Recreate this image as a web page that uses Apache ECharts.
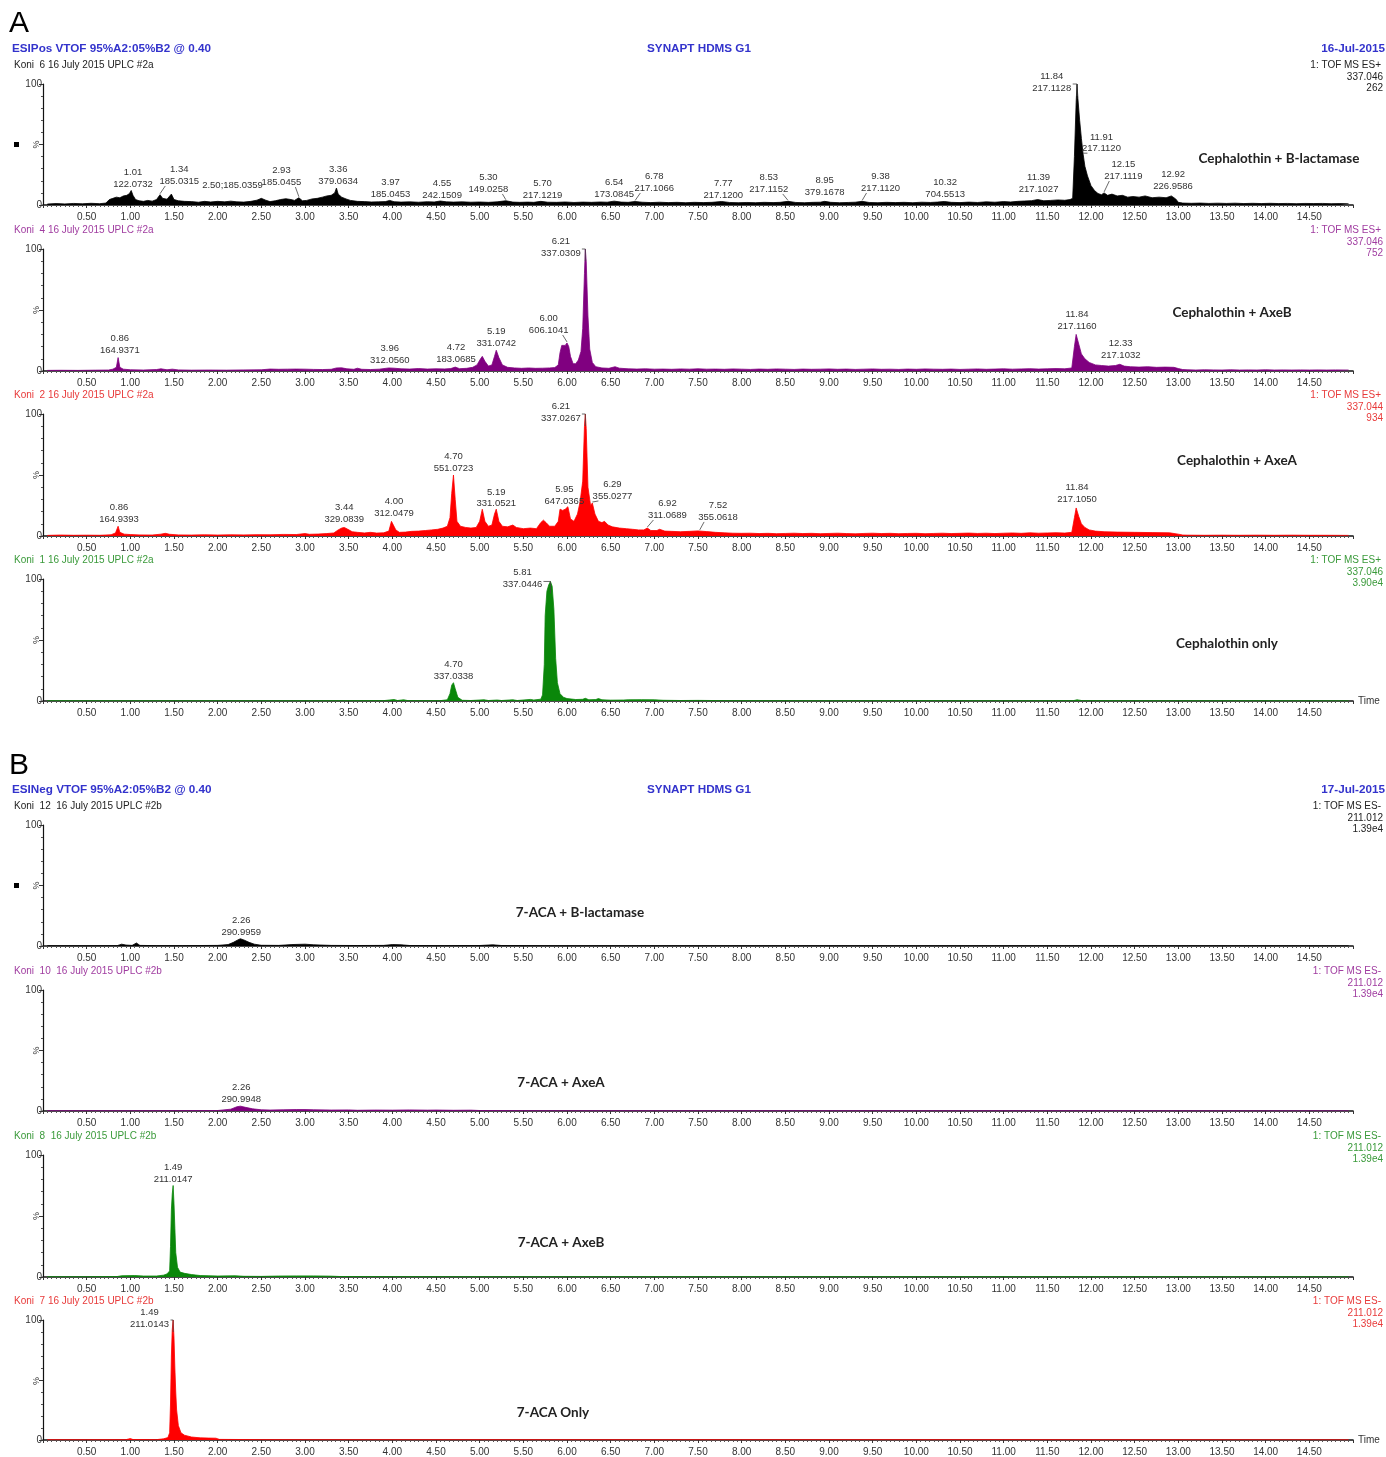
<!DOCTYPE html>
<html><head><meta charset="utf-8">
<script src="https://cdn.jsdelivr.net/npm/echarts@6/dist/echarts.min.js"></script>
<style>html,body{margin:0;padding:0;background:#fff}#c{width:1386px;height:1457px}</style>
</head><body><div id="c"></div>
<script>
// ---------- DATA (retention time [min], relative intensity [%]) ----------
const a1Data = [[0.05,0.8],[0.15,1.2],[0.25,0.9],[0.35,1.3],[0.45,1.0],[0.55,1.4],[0.65,1.1],[0.72,1.6],
[0.76,4.5],[0.80,5.5],[0.84,6.5],[0.88,6.0],[0.92,7.5],[0.96,8.0],[0.99,9.5],[1.01,12],[1.03,8],[1.06,4.5],[1.10,3.5],[1.15,3.0],[1.20,3.8],[1.25,3.2],[1.30,4.5],[1.34,8.5],[1.37,5.5],[1.42,4.8],[1.47,9],[1.50,4.5],[1.55,3.5],[1.62,3.0],[1.70,2.8],[1.78,2.3],[1.85,3.0],[1.92,2.5],[2.00,3.0],[2.08,2.6],[2.15,3.2],[2.22,2.6],[2.30,2.4],[2.38,3.0],[2.45,4.0],[2.50,5.5],[2.55,4.0],[2.60,2.8],[2.66,3.5],[2.72,4.5],[2.78,5.2],[2.84,4.5],[2.88,3.8],[2.93,6.0],[2.97,3.5],[3.02,3.8],[3.08,5.0],[3.14,5.5],[3.20,6.5],[3.25,7.5],[3.30,8.0],[3.34,10],[3.36,14],[3.38,9],[3.42,6.5],[3.47,5.0],[3.52,3.8],[3.60,3.0],[3.68,2.8],[3.76,2.5],[3.84,2.6],[3.92,2.8],[3.97,3.8],[4.02,2.7],[4.10,2.4],[4.20,2.6],[4.30,2.3],[4.40,2.7],[4.48,2.5],[4.55,3.3],[4.62,2.6],[4.70,2.4],[4.80,2.6],[4.90,2.3],[5.00,2.5],[5.10,2.2],[5.20,2.6],[5.30,3.5],[5.38,2.4],[5.46,2.2],[5.55,2.4],[5.62,2.2],[5.70,3.0],[5.78,2.3],[5.88,2.2],[5.98,2.5],[6.08,2.1],[6.18,2.4],[6.28,2.2],[6.38,2.5],[6.46,2.3],[6.54,3.2],[6.62,2.4],[6.70,2.2],[6.78,2.9],[6.86,2.3],[6.96,2.0],[7.06,2.3],[7.16,2.0],[7.26,2.2],[7.36,1.9],[7.46,2.2],[7.56,2.0],[7.66,2.2],[7.77,2.9],[7.86,2.1],[7.96,1.9],[8.06,2.1],[8.16,1.9],[8.26,2.2],[8.36,2.0],[8.44,2.2],[8.53,3.0],[8.62,2.1],[8.72,1.9],[8.82,2.2],[8.90,2.3],[8.95,3.0],[9.02,2.2],[9.12,1.9],[9.22,2.1],[9.30,2.3],[9.38,3.0],[9.46,2.1],[9.56,1.9],[9.66,2.2],[9.76,2.0],[9.86,2.2],[9.96,1.9],[10.06,2.3],[10.16,2.1],[10.24,2.4],[10.32,2.9],[10.40,2.2],[10.50,2.0],[10.60,2.4],[10.70,2.1],[10.80,2.6],[10.90,2.3],[11.00,2.8],[11.08,2.5],[11.16,3.0],[11.24,3.3],[11.32,3.6],[11.39,4.5],[11.46,3.5],[11.54,3.8],[11.62,4.2],[11.70,3.9],[11.76,4.5],[11.79,5.5],[11.81,40],[11.83,85],[11.84,100],[11.85,88],[11.87,70],[11.89,55],[11.91,42],[11.93,32],[11.96,24],[12.00,16],[12.04,12],[12.08,9.5],[12.12,8.5],[12.15,10],[12.19,8],[12.24,9],[12.30,7.5],[12.36,8],[12.42,6.5],[12.48,7],[12.55,6.5],[12.62,7.5],[12.70,6],[12.78,6.5],[12.86,6],[12.92,7.5],[12.97,5],[13.00,2.2],[13.05,1.6],[13.15,1.4],[13.25,1.6],[13.35,1.3],[13.45,1.5],[13.55,1.3],[13.65,1.5],[13.75,1.2],[13.85,1.4],[13.95,1.2],[14.05,1.4],[14.15,1.2],[14.25,1.3],[14.35,1.1],[14.45,1.3],[14.55,1.2],[14.65,1.3],[14.75,1.1],[14.85,1.2],[14.95,1.0]];

const a2Data = [[0.05,0.5],[0.2,0.6],[0.4,0.5],[0.6,0.7],[0.75,0.8],[0.80,1.5],[0.84,3],[0.86,11],[0.88,3],[0.92,1.5],[1.0,1.0],[1.15,0.8],[1.3,1.2],[1.35,1.8],[1.42,1.0],[1.48,1.5],[1.55,0.9],[1.7,0.7],[1.9,0.8],[2.1,0.7],[2.3,0.9],[2.5,1.0],[2.6,1.6],[2.7,1.4],[2.8,1.5],[2.9,1.6],[3.0,1.5],[3.1,1.3],[3.2,1.2],[3.3,1.4],[3.36,2.5],[3.42,2.6],[3.48,1.8],[3.56,1.4],[3.60,2.3],[3.65,1.4],[3.75,1.2],[3.85,1.5],[3.96,2.5],[4.02,2.3],[4.1,1.8],[4.2,1.6],[4.3,2.0],[4.4,1.6],[4.5,1.8],[4.6,1.7],[4.67,2.0],[4.72,3.2],[4.77,1.9],[4.85,2.2],[4.92,3.0],[4.97,5],[5.01,10],[5.03,12],[5.06,8],[5.10,4],[5.14,5],[5.17,12],[5.19,17],[5.22,11],[5.26,5],[5.32,3],[5.40,2.5],[5.48,2.2],[5.56,2.5],[5.64,2.2],[5.72,2.3],[5.80,2.5],[5.86,2.8],[5.90,5],[5.92,15],[5.94,21],[5.96,22],[5.98,21],[6.00,23],[6.02,20],[6.04,12],[6.07,6],[6.10,6],[6.13,9],[6.16,16],[6.18,35],[6.20,80],[6.21,100],[6.22,90],[6.24,45],[6.26,18],[6.29,7],[6.33,3.5],[6.40,2.5],[6.48,2.2],[6.55,3.5],[6.60,2.3],[6.7,1.8],[6.8,1.6],[6.9,1.8],[7.0,1.5],[7.1,1.6],[7.2,1.4],[7.3,1.7],[7.4,1.5],[7.5,1.8],[7.6,1.5],[7.7,1.6],[7.8,1.4],[7.9,1.7],[8.0,1.5],[8.1,1.3],[8.2,1.6],[8.3,1.4],[8.4,1.7],[8.5,1.5],[8.6,1.3],[8.7,1.6],[8.8,1.4],[8.9,1.5],[9.0,1.7],[9.1,1.4],[9.2,1.6],[9.3,1.3],[9.4,1.5],[9.5,1.7],[9.6,1.4],[9.7,1.5],[9.8,1.3],[9.9,1.6],[10.0,1.4],[10.1,1.7],[10.2,1.5],[10.3,1.4],[10.4,1.6],[10.5,1.3],[10.6,1.5],[10.7,1.7],[10.8,1.4],[10.9,1.6],[11.0,1.8],[11.1,1.5],[11.2,1.7],[11.3,1.9],[11.4,1.6],[11.5,1.8],[11.6,2.0],[11.7,1.8],[11.78,2.5],[11.81,20],[11.83,30],[11.84,31],[11.86,22],[11.89,14],[11.93,10],[11.98,7],[12.05,5],[12.12,4.5],[12.2,4],[12.28,4.5],[12.33,5.5],[12.38,4],[12.45,3.5],[12.55,3.2],[12.65,3.5],[12.75,3],[12.85,3.2],[12.95,3],[13.0,2.0],[13.05,1.2],[13.1,1.0],[13.2,0.8],[13.3,1.0],[13.4,0.9],[13.5,0.8],[13.6,1.0],[13.7,0.8],[13.8,0.9],[13.9,0.8],[14.0,1.0],[14.1,0.8],[14.2,0.9],[14.3,0.8],[14.4,0.9],[14.5,0.8],[14.6,0.9],[14.7,0.8],[14.8,0.9],[14.95,0.8]];

const a3Data = [[0.05,0.5],[0.2,0.8],[0.35,0.6],[0.5,0.7],[0.65,0.6],[0.78,1.0],[0.83,2.5],[0.86,8],[0.88,3],[0.93,1.5],[1.0,1.2],[1.1,0.9],[1.25,0.8],[1.35,1.5],[1.40,2.2],[1.45,1.4],[1.55,0.9],[1.7,0.8],[1.85,1.0],[2.0,0.8],[2.15,1.0],[2.3,0.9],[2.45,1.1],[2.6,1.0],[2.75,1.3],[2.9,1.2],[3.0,2.0],[3.05,1.4],[3.15,1.6],[3.25,2.0],[3.33,2.5],[3.38,5],[3.42,6.5],[3.45,7],[3.49,5.5],[3.54,3.5],[3.6,3.0],[3.68,2.5],[3.75,3.0],[3.82,2.4],[3.9,2.6],[3.96,4],[3.99,12],[4.01,13],[4.04,5],[4.08,3.0],[4.15,3.2],[4.22,3.8],[4.3,4.0],[4.38,4.5],[4.45,5.0],[4.52,5.5],[4.58,6.5],[4.63,8],[4.66,15],[4.68,35],[4.70,50],[4.72,30],[4.74,12],[4.78,8],[4.84,7],[4.9,6.5],[4.96,7],[5.00,12],[5.03,22],[5.06,12],[5.10,8],[5.14,9],[5.17,18],[5.19,22],[5.22,12],[5.26,8],[5.32,7.5],[5.38,9],[5.42,7],[5.5,6],[5.58,6.5],[5.65,6],[5.70,11],[5.73,13],[5.76,11],[5.80,8],[5.86,8],[5.90,12],[5.92,22],[5.95,21],[5.98,22],[6.01,24],[6.04,14],[6.08,12],[6.12,18],[6.15,28],[6.18,45],[6.20,90],[6.21,100],[6.22,88],[6.24,40],[6.27,25],[6.29,27],[6.32,18],[6.36,12],[6.40,11],[6.43,12],[6.47,9],[6.52,7.5],[6.6,6.5],[6.68,6],[6.75,5.5],[6.82,5],[6.88,5],[6.92,6.5],[6.96,4.5],[7.03,4.5],[7.06,5.5],[7.12,4],[7.2,3.8],[7.3,3.5],[7.4,3.8],[7.5,4.2],[7.6,3.6],[7.7,3.0],[7.8,2.6],[7.9,2.3],[8.0,2.2],[8.1,2.3],[8.2,2.0],[8.3,2.2],[8.4,1.9],[8.5,2.1],[8.6,2.3],[8.7,2.0],[8.8,2.2],[8.9,1.9],[9.0,2.1],[9.1,2.3],[9.2,2.0],[9.3,1.8],[9.4,2.1],[9.5,2.3],[9.6,2.0],[9.7,2.2],[9.8,1.9],[9.9,2.1],[10.0,2.2],[10.1,1.9],[10.2,2.1],[10.3,2.3],[10.4,2.0],[10.5,2.2],[10.6,2.4],[10.7,2.1],[10.8,2.3],[10.9,2.0],[11.0,2.3],[11.1,2.5],[11.2,2.2],[11.3,2.6],[11.4,2.3],[11.5,2.5],[11.6,2.7],[11.7,2.4],[11.78,3],[11.81,15],[11.83,23],[11.84,24],[11.86,16],[11.89,10],[11.93,7],[11.98,5],[12.05,4],[12.15,3.5],[12.3,3.2],[12.5,3.0],[12.7,2.8],[12.9,2.6],[13.0,1.5],[13.05,0.8],[13.1,0.7],[13.3,0.6],[13.5,0.7],[13.7,0.6],[13.9,0.7],[14.1,0.6],[14.3,0.7],[14.5,0.6],[14.7,0.6],[14.95,0.5]];

const a4Data = [[0.05,0.2],[1.0,0.2],[2.0,0.2],[3.0,0.2],[3.9,0.3],[4.02,1.2],[4.06,0.4],[4.13,1.0],[4.18,0.3],[4.55,0.3],[4.63,1.0],[4.66,6],[4.68,13],[4.70,15],[4.72,10],[4.75,3],[4.80,0.6],[4.9,0.4],[5.05,1.0],[5.1,0.4],[5.2,0.8],[5.25,0.4],[5.38,1.0],[5.43,0.4],[5.58,1.3],[5.62,0.8],[5.70,1.5],[5.72,5],[5.74,30],[5.75,70],[5.77,90],[5.79,95],[5.81,98],[5.83,94],[5.85,75],[5.87,35],[5.89,15],[5.92,6],[5.96,3],[6.0,2],[6.1,1.2],[6.18,1.4],[6.21,2.2],[6.25,1.0],[6.33,1.2],[6.36,2.0],[6.40,1.0],[6.5,0.7],[6.65,0.8],[6.7,1.0],[6.85,1.1],[7.0,1.0],[7.1,0.6],[7.3,0.4],[7.5,0.5],[7.8,0.3],[8.0,0.3],[9,0.2],[10,0.3],[11,0.2],[11.8,0.3],[11.84,1.0],[11.9,0.3],[13,0.2],[14,0.2],[14.95,0.2]];

const b1Data = [[0.05,0.2],[0.5,0.2],[0.85,0.3],[0.9,1.5],[0.95,0.8],[1.02,0.5],[1.07,2.5],[1.11,0.5],[1.3,0.3],[1.6,0.3],[2.0,0.5],[2.12,1.2],[2.18,3],[2.23,5],[2.26,6],[2.30,5],[2.36,3],[2.42,1.5],[2.5,0.6],[2.7,0.5],[2.85,1.2],[3.0,1.5],[3.1,1.0],[3.3,0.5],[3.6,0.4],[3.9,0.5],[4.0,1.2],[4.1,1.0],[4.2,0.4],[4.6,0.3],[5.0,0.4],[5.15,1.0],[5.25,0.4],[5.6,0.3],[6,0.2],[7,0.2],[8,0.2],[9,0.2],[10,0.2],[11,0.2],[12,0.2],[13,0.2],[14,0.2],[14.95,0.2]];

const b2Data = [[0.05,0.2],[1,0.2],[1.5,0.3],[2.0,0.4],[2.15,1.5],[2.22,3.5],[2.26,4],[2.32,3],[2.4,1.8],[2.5,1.0],[2.6,0.8],[2.75,1.0],[2.9,1.2],[3.0,1.2],[3.1,1.0],[3.3,0.8],[3.5,0.9],[3.6,0.6],[3.8,0.8],[4.0,0.7],[4.2,0.9],[4.4,0.7],[4.5,0.8],[4.7,0.6],[4.9,0.7],[5.0,0.4],[5.5,0.3],[6,0.2],[8,0.2],[10,0.2],[12,0.2],[14.95,0.2]];

const b3Data = [[0.05,0.2],[0.5,0.2],[0.85,0.4],[0.9,1.0],[1.05,1.2],[1.15,0.8],[1.3,0.8],[1.38,1.5],[1.42,2.5],[1.45,5],[1.46,25],[1.47,55],[1.48,68],[1.49,75],[1.50,60],[1.51,40],[1.52,20],[1.54,8],[1.57,4],[1.62,3],[1.7,2],[1.8,1.2],[2.0,0.8],[2.2,1.0],[2.3,0.6],[2.5,0.5],[2.7,0.8],[2.9,0.9],[3.1,0.9],[3.3,0.7],[3.4,0.4],[4,0.3],[5,0.2],[6,0.2],[8,0.2],[10,0.2],[12,0.2],[14.95,0.2]];

const b4Data = [[0.05,0.2],[0.5,0.2],[0.95,0.3],[1.0,1.2],[1.03,0.4],[1.3,0.3],[1.38,1],[1.43,2],[1.45,6],[1.46,30],[1.47,70],[1.48,92],[1.49,100],[1.50,85],[1.51,60],[1.52,40],[1.53,25],[1.55,12],[1.58,6],[1.62,4],[1.7,2.5],[1.8,1.8],[1.9,1.6],[1.98,1.5],[2.02,0.5],[2.5,0.3],[3,0.2],[5,0.2],[8,0.2],[11,0.2],[14.95,0.2]];

// Peak annotations: [retention time, m/z text, apex intensity]
const a1Peaks = [[1.01,'122.0732',12],[1.34,'185.0315',8.5],[2.50,'185.0359',5.5],[2.93,'185.0455',6],[3.36,'379.0634',14],[3.97,'185.0453',3.8],[4.55,'242.1509',3.3],[5.30,'149.0258',3.5],[5.70,'217.1219',3.0],[6.54,'173.0845',3.2],[6.78,'217.1066',2.9],[7.77,'217.1200',2.9],[8.53,'217.1152',3.0],[8.95,'379.1678',3.0],[9.38,'217.1120',3.0],[10.32,'704.5513',2.9],[11.39,'217.1027',4.5],[11.84,'217.1128',100],[11.91,'217.1120',42],[12.15,'217.1119',10],[12.92,'226.9586',7.5]];
const a2Peaks = [[0.86,'164.9371',11],[3.96,'312.0560',2.5],[4.72,'183.0685',3.2],[5.19,'331.0742',17],[6.00,'606.1041',23],[6.21,'337.0309',100],[11.84,'217.1160',31],[12.33,'217.1032',5.5]];
const a3Peaks = [[0.86,'164.9393',8],[3.44,'329.0839',7],[4.00,'312.0479',13],[4.70,'551.0723',50],[5.19,'331.0521',22],[5.95,'647.0365',21],[6.21,'337.0267',100],[6.29,'355.0277',27],[6.92,'311.0689',6.5],[7.52,'355.0618',4.2],[11.84,'217.1050',24]];
const a4Peaks = [[4.70,'337.0338',15],[5.81,'337.0446',98]];
const b1Peaks = [[2.26,'290.9959',6]];
const b2Peaks = [[2.26,'290.9948',4]];
const b3Peaks = [[1.49,'211.0147',75]];
const b4Peaks = [[1.49,'211.0143',100]];

// Per-panel header texts
const runNames = ['Koni  6 16 July 2015 UPLC #2a','Koni  4 16 July 2015 UPLC #2a','Koni  2 16 July 2015 UPLC #2a','Koni  1 16 July 2015 UPLC #2a',
  'Koni  12  16 July 2015 UPLC #2b','Koni  10  16 July 2015 UPLC #2b','Koni  8  16 July 2015 UPLC #2b','Koni  7 16 July 2015 UPLC #2b'];
const traceInfo = [['1: TOF MS ES+','337.046','262'],['1: TOF MS ES+','337.046','752'],['1: TOF MS ES+','337.044','934'],['1: TOF MS ES+','337.046','3.90e4'],
  ['1: TOF MS ES-','211.012','1.39e4'],['1: TOF MS ES-','211.012','1.39e4'],['1: TOF MS ES-','211.012','1.39e4'],['1: TOF MS ES-','211.012','1.39e4']];
const sampleNames = ['Cephalothin + B-lactamase','Cephalothin + AxeB','Cephalothin + AxeA','Cephalothin only','7-ACA + B-lactamase','7-ACA + AxeA','7-ACA + AxeB','7-ACA Only'];
const xTickInterval = 0.5;

// ---------- LAYOUT / STYLE ----------
const series = [a1Data,a2Data,a3Data,a4Data,b1Data,b2Data,b3Data,b4Data];
const peaks = [a1Peaks,a2Peaks,a3Peaks,a4Peaks,b1Peaks,b2Peaks,b3Peaks,b4Peaks];
// label anchors (time, intensity of label bottom, inline flag)
const labelAnchors = [
 [[1.03,12.4],[1.56,14.9],[2.17,11.6,1],[2.73,14],[3.38,14.9],[3.98,4.1],[4.57,3.3],[5.10,8.3],[5.72,3.3],[6.54,4.1],[7.0,9.1],[7.79,3.3],[8.31,8.3],[8.95,5.8],[9.59,9.1],[10.33,4.1],[11.40,8.3],[11.55,91.7],[12.12,42],[12.37,19],[12.94,10.7]],
 [[0.88,12.3],[3.97,4.1],[4.73,4.9],[5.19,18],[5.79,28.7],[5.93,91.8],[11.84,32],[12.34,8.2]],
 [[0.87,9],[3.45,9],[4.02,13.9],[4.70,50.8],[5.19,22],[5.97,23.8],[5.93,91.8],[6.52,27.9],[7.15,12.3],[7.73,10.7],[11.84,25.4]],
 [[4.70,15.6],[5.49,91]],
 [[2.27,6.6]],[[2.27,5]],[[1.49,75.4]],[[1.22,91.8]]
];
const tops = [84,249,414,579,825,990,1155,1320];
const bottoms = [205,371,536,701,946,1111,1277,1442];
const fillColors = ['#000000','#800080','#ff0000','#0a870a','#000000','#800080','#0a870a','#ff0000'];
const textColors = ['#222222','#a03ca0','#e83a3a','#3a9a3a','#222222','#a03ca0','#3a9a3a','#e83a3a'];
const samplePos = [[1279,159],[1232,313],[1237,461],[1227,644],[580,913],[561,1083],[561,1243],[553,1413]];
const FONT = '"Liberation Sans", Arial, sans-serif';

const chart = echarts.init(document.getElementById('c'), null, {renderer:'canvas'});
const grids=[], xAxes=[], yAxes=[], sers=[];
for (let i=0;i<8;i++){
  grids.push({left:43, right:33, top:tops[i], height:bottoms[i]-tops[i]});
  xAxes.push({gridIndex:i, type:'value', min:0, max:15, interval:xTickInterval,
    axisLine:{show:true, onZero:false, lineStyle:{color:'#111', width:1.6}},
    axisTick:{show:true, length:3, lineStyle:{color:'#333', width:1}},
    minorTick:{show:true, splitNumber:10, length:2, lineStyle:{color:'#555', width:1}},
    splitLine:{show:false},
    axisLabel:{fontSize:10, color:'#333', margin:7, fontFamily:FONT,
      formatter:v=> (v<=0.001||v>=14.999)?'':v.toFixed(2)},
    name:(i===3||i===7)?'Time':'', nameLocation:'end', nameGap:5,
    nameTextStyle:{fontSize:10, color:'#333', fontFamily:FONT}
  });
  yAxes.push({gridIndex:i, type:'value', min:0, max:100, interval:50,
    axisLine:{show:true, lineStyle:{color:'#111', width:1.2}},
    axisTick:{show:true, length:4, lineStyle:{color:'#333'}},
    minorTick:{show:true, splitNumber:5, length:2, lineStyle:{color:'#555'}},
    splitLine:{show:false},
    axisLabel:{fontSize:10, color:'#333', margin:1, fontFamily:FONT, formatter:v=> v===50?'':String(v)}
  });
  sers.push({type:'line', xAxisIndex:i, yAxisIndex:i, data:series[i], showSymbol:false, symbol:'none',
    lineStyle:{width:0.8, color:fillColors[i]}, areaStyle:{color:fillColors[i], opacity:1},
    silent:true, animation:false, z:2});
}
chart.setOption({animation:false, grid:grids, xAxis:xAxes, yAxis:yAxes, series:sers});

// ---------- TEXT / ANNOTATIONS ----------
const g = [];
function txt(text,x,y,opt){ g.push(Object.assign({type:'text', silent:true, z:10, style:Object.assign({text, x, y, fill:'#222', font:'10px '+FONT, align:'left', verticalAlign:'middle'}, opt||{})})); }
txt('A',9,24,{font:'30px '+FONT, fill:'#000'});
txt('B',9,766,{font:'30px '+FONT, fill:'#000'});
[[49,'ESIPos VTOF 95%A2:05%B2 @ 0.40','16-Jul-2015'],[790,'ESINeg VTOF 95%A2:05%B2 @ 0.40','17-Jul-2015']].forEach(([y,a,d])=>{
  txt(a,12,y,{font:'bold 11.7px '+FONT, fill:'#3333cc'});
  txt('SYNAPT HDMS G1',699,y,{font:'bold 11.7px '+FONT, fill:'#3333cc', align:'center'});
  txt(d,1385,y,{font:'bold 11.7px '+FONT, fill:'#3333cc', align:'right'});
});
g.push({type:'rect', silent:true, shape:{x:14,y:142,width:5,height:5}, style:{fill:'#000'}});
g.push({type:'rect', silent:true, shape:{x:14,y:883,width:5,height:5}, style:{fill:'#000'}});

for (let i=0;i<8;i++){
  const t=tops[i], b=bottoms[i];
  txt(runNames[i],14,t-19,{fill:textColors[i]});
  txt(traceInfo[i][0],1381,t-19,{fill:textColors[i], align:'right'});
  txt(traceInfo[i][1],1383,t-7,{fill:textColors[i], align:'right'});
  txt(traceInfo[i][2],1383,t+4,{fill:textColors[i], align:'right'});
  txt(sampleNames[i],samplePos[i][0],samplePos[i][1],{font:'bold 13.5px Lato, "Open Sans", sans-serif', fill:'#222', align:'center'});
  // rotated % label
  g.push({type:'text', silent:true, x:37, y:(t+b)/2, rotation:Math.PI/2,
    style:{text:'%', x:0, y:0, fill:'#333', font:'9px '+FONT, align:'center', verticalAlign:'middle'}});
  // peak labels
  peaks[i].forEach((p,k)=>{
    const la = labelAnchors[i][k];
    const L = chart.convertToPixel({gridIndex:i},[la[0],la[1]]);
    const P = chart.convertToPixel({gridIndex:i},[p[0],p[2]]);
    const rt = p[0].toFixed(2);
    const text = la[2] ? rt+';'+p[1] : rt+'\n'+p[1];
    g.push({type:'text', silent:true, z:10, style:{text, x:L[0], y:L[1], fill:'#333', font:'9.5px '+FONT, align:'center', verticalAlign:'bottom', lineHeight:11.5}});
    if (la[1] > 85) {
      const rx = L[0]+21;
      g.push({type:'polyline', silent:true, z:9, shape:{points:[[rx,P[1]],[P[0],P[1]],[P[0],P[1]+12]]}, style:{stroke:'#444', lineWidth:0.8, fill:null}});
    } else if (Math.abs(la[0]-p[0])>0.1 && !la[2]) {
      const sx = la[0] < p[0] ? L[0]+14 : L[0]-14;
      g.push({type:'line', silent:true, z:9, shape:{x1:sx, y1:L[1]-1, x2:P[0], y2:P[1]-1}, style:{stroke:'#444', lineWidth:0.8}});
    }
  });
}
chart.setOption({graphic:g});
</script></body></html>
